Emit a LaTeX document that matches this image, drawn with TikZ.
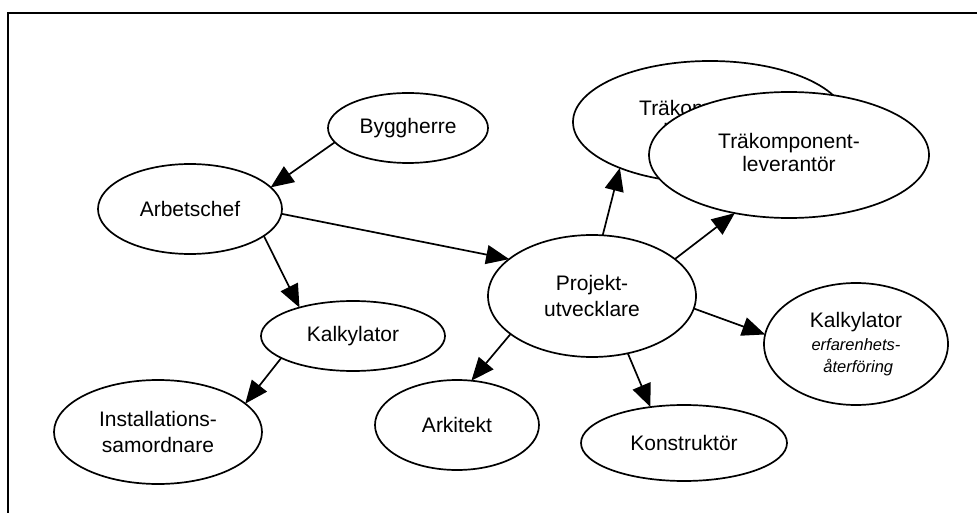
\documentclass[tikz,border=0pt]{standalone}
\usepackage{fontspec}
\setmainfont{Liberation Sans}
\usetikzlibrary{shapes.geometric,arrows.meta}
\newcommand{\noteit}{\fontsize{16.5pt}{21pt}\selectfont\itshape}

\begin{document}
\begin{tikzpicture}[x=1pt,y=-1pt,
  role/.style={ellipse, draw, line width=1.7pt, fill=white, inner sep=0pt, outer sep=0pt,
    align=center, font=\fontsize{21pt}{26pt}\selectfont},
  link/.style={line width=1.7pt, -{Triangle[length=23pt,width=19pt]}}]

  % page and frame
  \fill[white] (0,0) rectangle (977,513);
  \useasboundingbox (0,0) rectangle (977,513);
  \draw[line width=1.8pt] (8,513) -- (8,13) -- (977,13);

  % participants
  \node[role, minimum width=160pt, minimum height=70pt]  (bygg) at (408,128) {Byggherre};
  \node[role, minimum width=184pt, minimum height=90pt]  (arb)  at (190,209) {Arbetschef};
  \node[role, minimum width=184pt, minimum height=70pt]  (kalkA) at (353,336) {Kalkylator};
  \node[role, minimum width=208pt, minimum height=104pt] (inst) at (158,432) {Installations-\\samordnare};
  \node[role, minimum width=208pt, minimum height=122pt] (proj) at (592,296) {Projekt-\\utvecklare};
  \node[role, minimum width=164pt, minimum height=90pt]  (ark)  at (457,425) {Arkitekt};
  \node[role, minimum width=206pt, minimum height=76pt]  (kon)  at (684,443) {Konstruktör};
  \node[role, minimum width=184pt, minimum height=122pt] (kalkB) at (856,344)
    {Kalkylator\\[-3pt]{\noteit erfarenhets-}\\[-4pt]{\noteit\ återföring}};
  \node[role, minimum width=274pt, minimum height=122pt] (trA) at (710,122)
    {\raisebox{10pt}{\begin{tabular}{@{}c@{}}Träkomponent-\\[-3pt]leverantör\end{tabular}}};
  \node[role, minimum width=280pt, minimum height=126pt] (trB) at (789,155)
    {\raisebox{7pt}{\begin{tabular}{@{}c@{}}Träkomponent-\\[-3pt]leverantör\end{tabular}}};

  % relations
  \draw[link] (bygg.191) -- (arb.15);
  \draw[link] (arb.-3) -- (proj.156);
  \draw[link] (arb.-20) -- (kalkA.152);
  \draw[link] (kalkA.197) -- (inst.18);
  \draw[link] (proj.205) -- (ark.72);
  \draw[link] (proj.-58) -- (kon.133);
  \draw[link] (proj.-7) -- (kalkB.174);
  \draw[link] (proj.80) -- (trA.207);
  \draw[link] (proj.24) -- (trB.227);
\end{tikzpicture}
\end{document}
